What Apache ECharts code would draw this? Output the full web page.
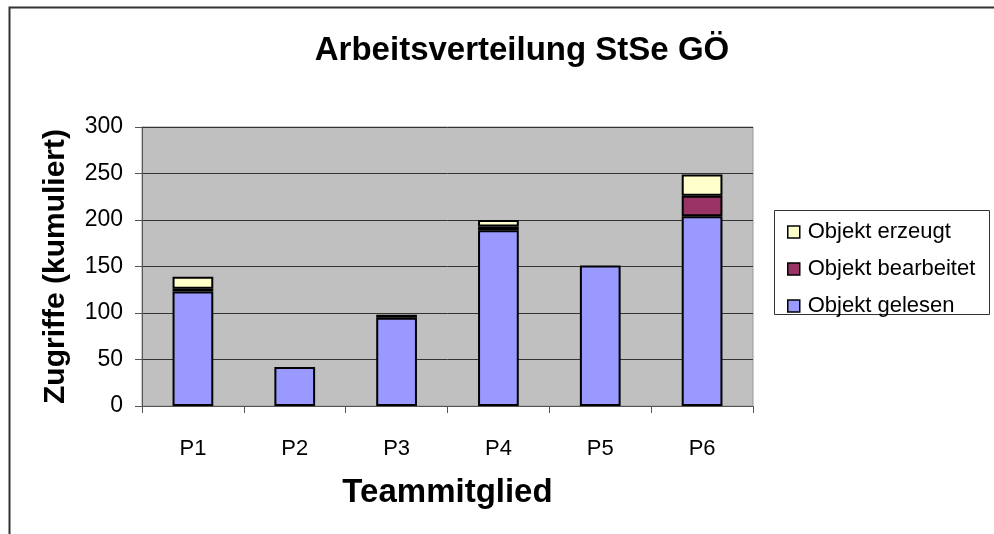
<!DOCTYPE html>
<html>
<head>
<meta charset="utf-8">
<script src="https://cdn.jsdelivr.net/npm/echarts@6/dist/echarts.min.js"></script>
<style>
  html, body { margin: 0; padding: 0; background: #fff; }
  #chart { width: 994px; height: 534px; }
</style>
</head>
<body>
<div id="chart"></div>
<script>
// Arbeitsverteilung StSe GÖ — stacked bars per team member
var members = ['P1', 'P2', 'P3', 'P4', 'P5', 'P6'];
var gelesen = [123, 42, 95, 189, 151, 204];
var bearbeitet = [3, 0, 3, 4, 0, 22];
var erzeugt = [13, 0, 0, 7, 0, 23];
var yTicks = [0, 50, 100, 150, 200, 250, 300];

var font = 'Liberation Sans, Arial, sans-serif';
var chart = echarts.init(document.getElementById('chart'));

function barSeries(name, data, color) {
  return {
    name: name, type: 'bar', stack: 'total',
    // zero parts are left out so they don't draw a stray border line
    data: data.map(function(v) { return v === 0 ? null : v; }),
    barWidth: '40%',
    itemStyle: { color: color, borderColor: '#000', borderWidth: 2 },
    emphasis: { disabled: true }
  };
}

chart.setOption({
  animation: false,
  title: {
    text: 'Arbeitsverteilung StSe GÖ',
    left: 517, top: 29, textAlign: 'center',
    textStyle: { fontFamily: font, fontSize: 33, fontWeight: 'bold', color: '#000' }
  },
  grid: {
    left: 142, right: 241, top: 127, bottom: 128,
    show: true, backgroundColor: '#C0C0C0', borderColor: '#999', borderWidth: 1
  },
  legend: {
    orient: 'vertical', left: 782, top: 216,
    data: ['Objekt erzeugt', 'Objekt bearbeitet', 'Objekt gelesen'],
    icon: 'rect', itemWidth: 12, itemHeight: 12, itemGap: 15,
    itemStyle: { borderColor: '#000', borderWidth: 1.5 },
    textStyle: { fontFamily: font, fontSize: 22, color: '#000', padding: [0, 0, 0, 3] },
    selectedMode: false
  },
  graphic: [
    { type: 'rect', shape: { x: 9.5, y: 7.5, width: 1000, height: 600 }, style: { fill: 'none', stroke: '#333', lineWidth: 2 }, silent: true },
    { type: 'rect', shape: { x: 774.5, y: 210.5, width: 215, height: 104 }, style: { fill: 'none', stroke: '#333', lineWidth: 1 }, silent: true }
  ],
  xAxis: {
    type: 'category', data: members,
    name: 'Teammitglied', nameLocation: 'middle', nameGap: 70,
    nameTextStyle: { fontFamily: font, fontSize: 33, fontWeight: 'bold', color: '#000' },
    axisLine: { lineStyle: { color: '#555', width: 1 } },
    axisTick: { show: true, length: 7, lineStyle: { color: '#555' } },
    axisLabel: { fontFamily: font, fontSize: 22, color: '#000', margin: 32 }
  },
  yAxis: {
    type: 'value', min: 0, max: 300, interval: 50,
    name: 'Zugriffe (kumuliert)', nameLocation: 'middle', nameGap: 71,
    nameTextStyle: { fontFamily: font, fontSize: 30, fontWeight: 'bold', color: '#000' },
    axisLine: { show: true, lineStyle: { color: '#555', width: 1 } },
    axisTick: { show: true, inside: false, length: 7, lineStyle: { color: '#555' } },
    axisLabel: {
      fontFamily: font, fontSize: 23, color: '#000', margin: 19,
      formatter: function(v) { return yTicks.indexOf(v) >= 0 ? String(v) : ''; }
    },
    splitLine: { lineStyle: { color: '#333', width: 1 } }
  },
  series: [
    barSeries('Objekt gelesen', gelesen, '#9999FF'),
    barSeries('Objekt bearbeitet', bearbeitet, '#993366'),
    barSeries('Objekt erzeugt', erzeugt, '#FFFFCC')
  ]
});
</script>
</body>
</html>
